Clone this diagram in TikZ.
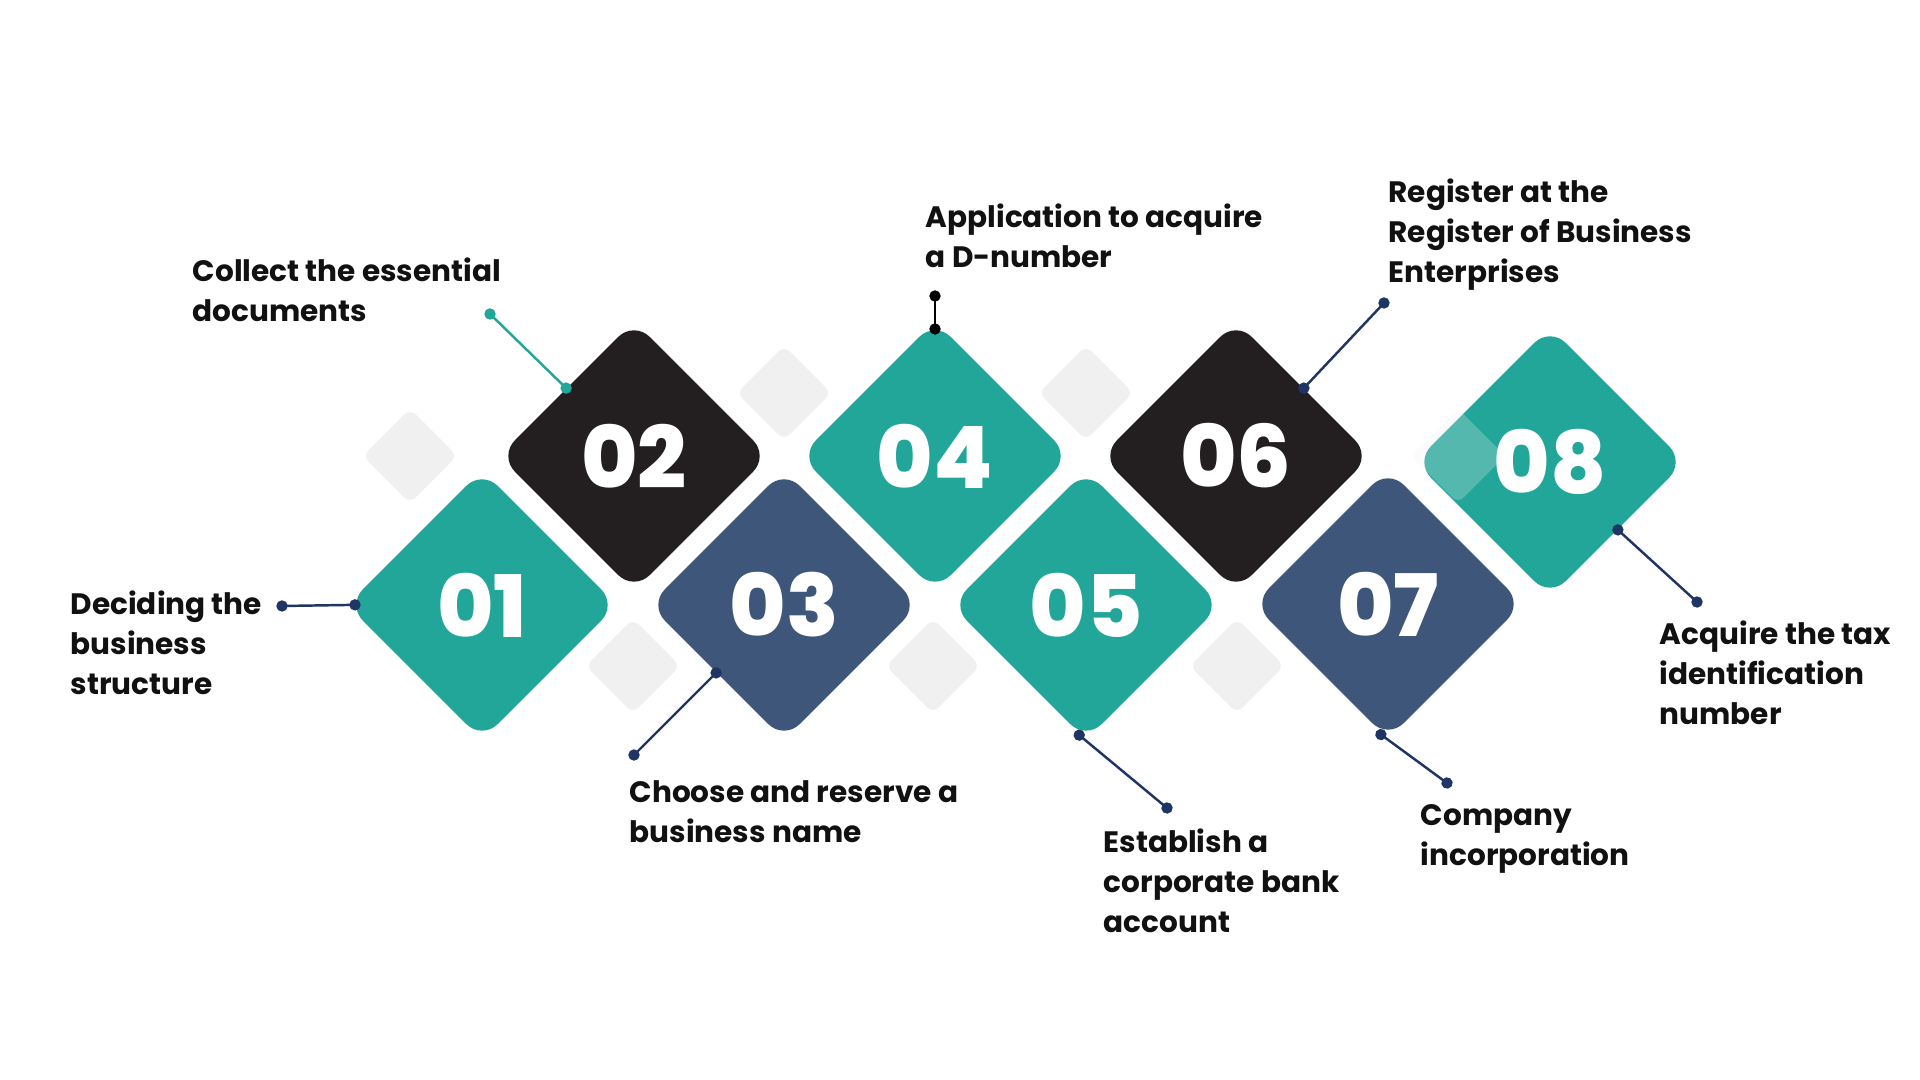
\documentclass[tikz,border=0pt]{standalone}
\usepackage{fontspec}
\setmainfont{Poppins}
\newfontfamily\labelfont{Poppins Bold}
\newfontfamily\numfont{Poppins ExtraBold}
\usetikzlibrary{shapes.geometric,arrows.meta}

\definecolor{tealc}{HTML}{21A699}
\definecolor{darkc}{HTML}{231F20}
\definecolor{navyc}{HTML}{3D5679}
\definecolor{greyc}{HTML}{F0F0F0}
\definecolor{linec}{HTML}{1F3564}
\definecolor{textc}{HTML}{111111}

\tikzset{
  card/.style={diamond, minimum size=2.7cm, inner sep=0pt, rounded corners=0.22cm,
    text=white, font=\numfont\fontsize{24.5}{30}\selectfont},
  tealcard/.style={card, fill=tealc},
  darkcard/.style={card, fill=darkc},
  navycard/.style={card, fill=navyc},
  ghost/.style={diamond, minimum size=0.95cm, inner sep=0pt, rounded corners=0.08cm, fill=greyc},
  lead/.style={line width=0.7pt, {Circle[length=3.2pt]}-{Circle[length=3.2pt]},
    shorten <=-1.6pt, shorten >=-1.6pt},
  tiplead/.style={lead, shorten >=-4.1pt},
  caption/.style={anchor=base west, inner sep=0pt, align=left, text=textc,
    font=\labelfont\fontsize{8.4}{11.5}\selectfont}
}

\begin{document}
\begin{tikzpicture}[x=0.01cm, y=-0.01cm]
        \useasboundingbox (0,0) rectangle (1920,1080);

        % Background diamonds
        \node (g1) [ghost] at (410,456) {};
        \node (g2) [ghost] at (784,393) {};
        \node (g3) [ghost] at (1086,393) {};
        \node (g4) [ghost] at (633,666) {};
        \node (g5) [ghost] at (933,666) {};
        \node (g6) [ghost] at (1237,666) {};

        % Nodes
        \node (d1) [tealcard] at (482,605) {01};
        \node (d2) [darkcard] at (634,456) {02};
        \node (d3) [navycard] at (784,605) {03};
        \node (d4) [tealcard] at (935,456) {04};
        \node (d5) [tealcard] at (1086,605) {05};
        \node (d6) [darkcard] at (1236,456) {06};
        \node (d7) [navycard] at (1388,604) {07};
        \node (d8) [tealcard] at (1550,462) {08};
        \node (g7) [ghost, opacity=0.25] at (1458,456) {};

        % Ends
        \coordinate (c1) at (282,606);
        \coordinate (c2) at (490,314);
        \coordinate (c3) at (634,755);
        \coordinate (c4) at (935,296);
        \coordinate (c5) at (1167,808);
        \coordinate (c6) at (1384,303);
        \coordinate (c7) at (1447,783);
        \coordinate (c8) at (1697,602);

        % Edges
        \draw [tiplead, linec] (c1) -- (d1.west);
        \draw [lead, tealc] (c2) -- (d2.north west);
        \draw [lead, linec] (c3) -- (d3.south west);
        \draw [tiplead, black] (c4) -- (d4.north);
        \draw [tiplead, linec] (c5) -- (d5.south);
        \draw [lead, linec] (c6) -- (d6.north east);
        \draw [tiplead, linec] (c7) -- (d7.south);
        \draw [lead, linec] (c8) -- (d8.south east);

        % Labels (base of last line)
        \node (t1) [caption] at (70,695) {Deciding the\\business\\structure};
        \node (t2) [caption] at (192,322) {Collect the essential\\documents};
        \node (t3) [caption] at (629,843) {Choose and reserve a\\business name};
        \node (t4) [caption] at (925,268) {Application to acquire\\a D-number};
        \node (t5) [caption] at (1103,933) {Establish a\\corporate bank\\account};
        \node (t6) [caption] at (1388,283) {Register at the\\Register of Business\\Enterprises};
        \node (t7) [caption] at (1420,866) {Company\\incorporation};
        \node (t8) [caption] at (1659,725) {Acquire the tax\\identification\\number};

    \end{tikzpicture}
\end{document}
